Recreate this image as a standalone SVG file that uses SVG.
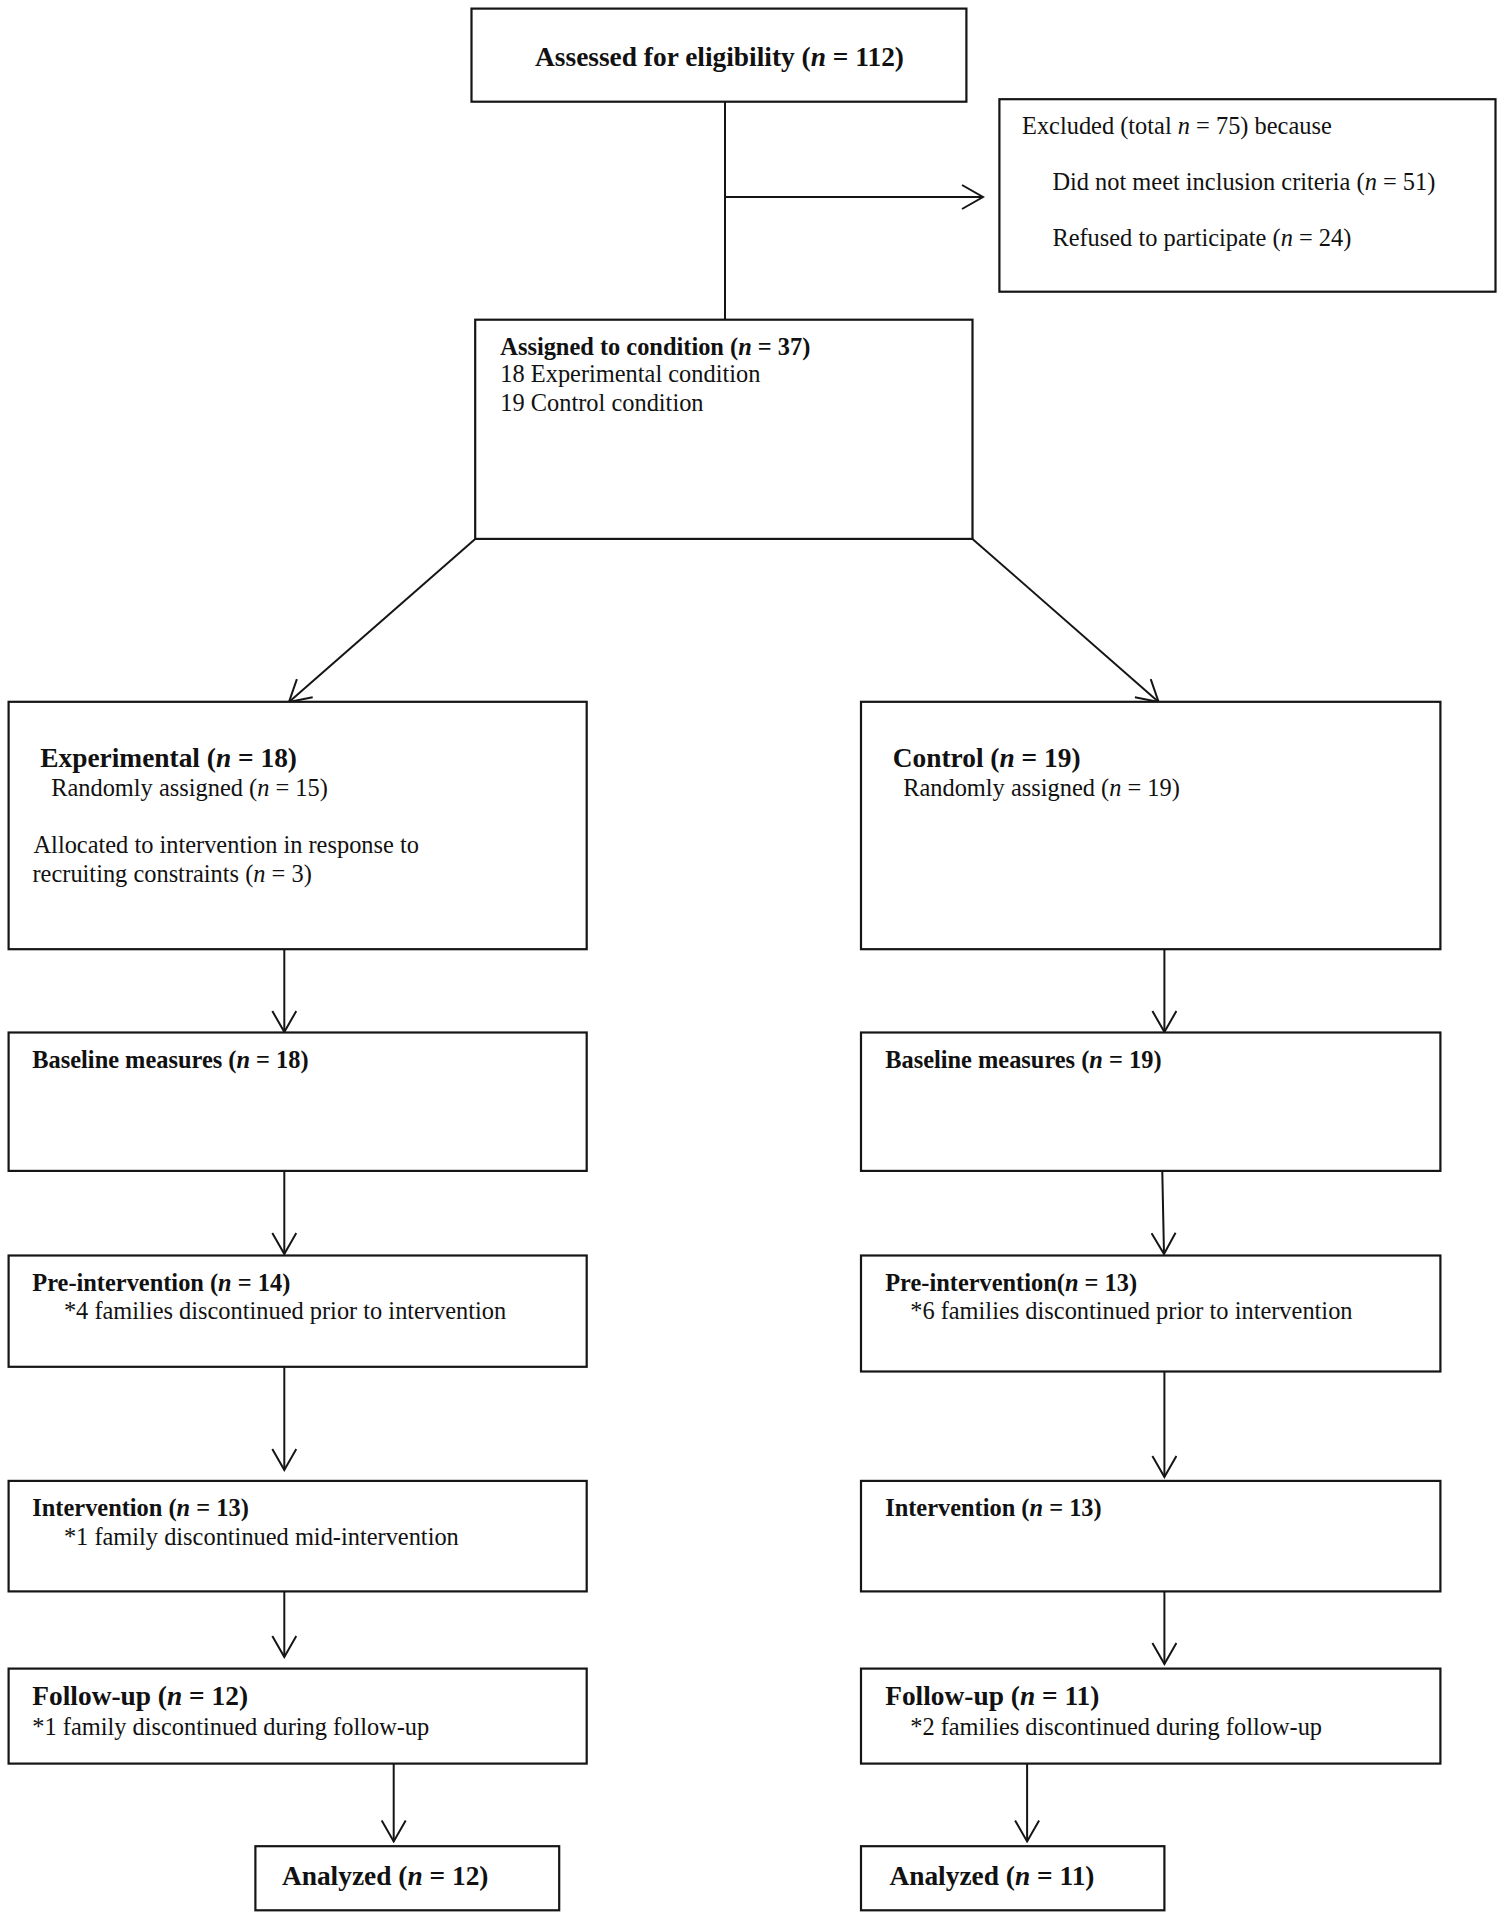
<svg xmlns="http://www.w3.org/2000/svg" width="1504" height="1920" viewBox="0 0 1504 1920">
<style>
.box{fill:#fff;stroke:#151515;stroke-width:2.2}
.t{font-family:"Liberation Serif","Times New Roman",serif;font-size:24.4px;fill:#111}
.b{font-weight:bold}
.big{font-size:27.4px}
.c{fill:none;stroke:#151515;stroke-width:2}
</style>
<defs>
<marker id="arr" viewBox="0 0 24 26" refX="22" refY="13" markerWidth="24" markerHeight="26" orient="auto" markerUnits="userSpaceOnUse">
<path d="M1,1 L22,13 L1,25" fill="none" stroke="#151515" stroke-width="2"/>
</marker>
</defs>
<rect width="1504" height="1920" fill="#fff"/>

<g id="connectors">
<line class="c" x1="725" y1="101.7" x2="725" y2="319.7"/>
<line class="c" x1="725" y1="197" x2="983" y2="197" marker-end="url(#arr)"/>
<line class="c" x1="475.2" y1="538.9" x2="289" y2="702" marker-end="url(#arr)"/>
<line class="c" x1="972.5" y1="538.9" x2="1158.6" y2="702" marker-end="url(#arr)"/>
<line class="c" x1="284.3" y1="949.2" x2="284.3" y2="1032" marker-end="url(#arr)"/>
<line class="c" x1="1164.4" y1="949.2" x2="1164.4" y2="1032" marker-end="url(#arr)"/>
<line class="c" x1="284.3" y1="1172" x2="284.3" y2="1254" marker-end="url(#arr)"/>
<line class="c" x1="1162.3" y1="1172" x2="1164" y2="1254" marker-end="url(#arr)"/>
<line class="c" x1="284.3" y1="1366.8" x2="284.3" y2="1470" marker-end="url(#arr)"/>
<line class="c" x1="1164.4" y1="1371.5" x2="1164.4" y2="1477" marker-end="url(#arr)"/>
<line class="c" x1="284.3" y1="1586" x2="284.3" y2="1657" marker-end="url(#arr)"/>
<line class="c" x1="1164.4" y1="1591.4" x2="1164.4" y2="1664" marker-end="url(#arr)"/>
<line class="c" x1="393.7" y1="1763.6" x2="393.7" y2="1841.4" marker-end="url(#arr)"/>
<line class="c" x1="1027.1" y1="1763.6" x2="1027.1" y2="1841.4" marker-end="url(#arr)"/>
</g>

<g id="assessed">
<rect class="box" x="471.5" y="8.6" width="494.9" height="93.1"/>
<text class="t b big" x="719.5" y="65.8" text-anchor="middle">Assessed for eligibility (<tspan font-style="italic">n</tspan> = 112)</text>
</g>

<g id="excluded">
<rect class="box" x="999.4" y="99.2" width="496.1" height="192.5"/>
<text class="t" x="1022" y="134">Excluded (total <tspan font-style="italic">n</tspan> = 75) because</text>
<text class="t" x="1052.4" y="190">Did not meet inclusion criteria (<tspan font-style="italic">n</tspan> = 51)</text>
<text class="t" x="1052.4" y="246">Refused to participate (<tspan font-style="italic">n</tspan> = 24)</text>
</g>

<g id="assigned">
<rect class="box" x="475.2" y="319.7" width="497.3" height="219.2"/>
<text class="t b" x="500.3" y="354.6">Assigned to condition (<tspan font-style="italic">n</tspan> = 37)</text>
<text class="t" x="500.3" y="382.2">18 Experimental condition</text>
<text class="t" x="500.3" y="410.5">19 Control condition</text>
</g>

<g id="experimental">
<rect class="box" x="8.6" y="701.8" width="578.1" height="247.4"/>
<text class="t b big" x="40.2" y="766.9">Experimental (<tspan font-style="italic">n</tspan> = 18)</text>
<text class="t" x="51.2" y="796.3">Randomly assigned (<tspan font-style="italic">n</tspan> = 15)</text>
<text class="t" x="33.5" y="853.1">Allocated to intervention in response to</text>
<text class="t" x="32.5" y="881.5">recruiting constraints (<tspan font-style="italic">n</tspan> = 3)</text>
</g>

<g id="control">
<rect class="box" x="861" y="701.8" width="579.4" height="247.4"/>
<text class="t b big" x="892.7" y="766.9">Control (<tspan font-style="italic">n</tspan> = 19)</text>
<text class="t" x="903.2" y="796.3">Randomly assigned (<tspan font-style="italic">n</tspan> = 19)</text>
</g>

<g id="baseline-exp">
<rect class="box" x="8.6" y="1032.5" width="578.1" height="138.4"/>
<text class="t b" x="32.3" y="1068.3">Baseline measures (<tspan font-style="italic">n</tspan> = 18)</text>
</g>

<g id="baseline-ctl">
<rect class="box" x="861" y="1032.5" width="579.4" height="138.4"/>
<text class="t b" x="885.2" y="1068.3">Baseline measures (<tspan font-style="italic">n</tspan> = 19)</text>
</g>

<g id="pre-exp">
<rect class="box" x="8.6" y="1255.5" width="578.1" height="111.3"/>
<text class="t b" x="32.3" y="1290.6">Pre-intervention (<tspan font-style="italic">n</tspan> = 14)</text>
<text class="t" x="63.9" y="1319">*4 families discontinued prior to intervention</text>
</g>

<g id="pre-ctl">
<rect class="box" x="861" y="1255.5" width="579.4" height="116"/>
<text class="t b" x="885.2" y="1290.6">Pre-intervention(<tspan font-style="italic">n</tspan> = 13)</text>
<text class="t" x="910.2" y="1319">*6 families discontinued prior to intervention</text>
</g>

<g id="intervention-exp">
<rect class="box" x="8.6" y="1480.9" width="578.1" height="110.5"/>
<text class="t b" x="32.3" y="1516">Intervention (<tspan font-style="italic">n</tspan> = 13)</text>
<text class="t" x="63.9" y="1544.6">*1 family discontinued mid-intervention</text>
</g>

<g id="intervention-ctl">
<rect class="box" x="861" y="1480.9" width="579.4" height="110.5"/>
<text class="t b" x="885.2" y="1516">Intervention (<tspan font-style="italic">n</tspan> = 13)</text>
</g>

<g id="followup-exp">
<rect class="box" x="8.6" y="1668.6" width="578.1" height="95"/>
<text class="t b big" x="32.3" y="1705.4">Follow-up (<tspan font-style="italic">n</tspan> = 12)</text>
<text class="t" x="32.3" y="1734.7">*1 family discontinued during follow-up</text>
</g>

<g id="followup-ctl">
<rect class="box" x="861" y="1668.6" width="579.4" height="95"/>
<text class="t b big" x="885.2" y="1705.4">Follow-up (<tspan font-style="italic">n</tspan> = 11)</text>
<text class="t" x="910.2" y="1734.7">*2 families discontinued during follow-up</text>
</g>

<g id="analyzed-exp">
<rect class="box" x="255.4" y="1846.2" width="303.8" height="64.1"/>
<text class="t b big" x="281.9" y="1884.5">Analyzed (<tspan font-style="italic">n</tspan> = 12)</text>
</g>

<g id="analyzed-ctl">
<rect class="box" x="861" y="1846.2" width="303.4" height="64.1"/>
<text class="t b big" x="889.4" y="1884.5">Analyzed (<tspan font-style="italic">n</tspan> = 11)</text>
</g>
</svg>
